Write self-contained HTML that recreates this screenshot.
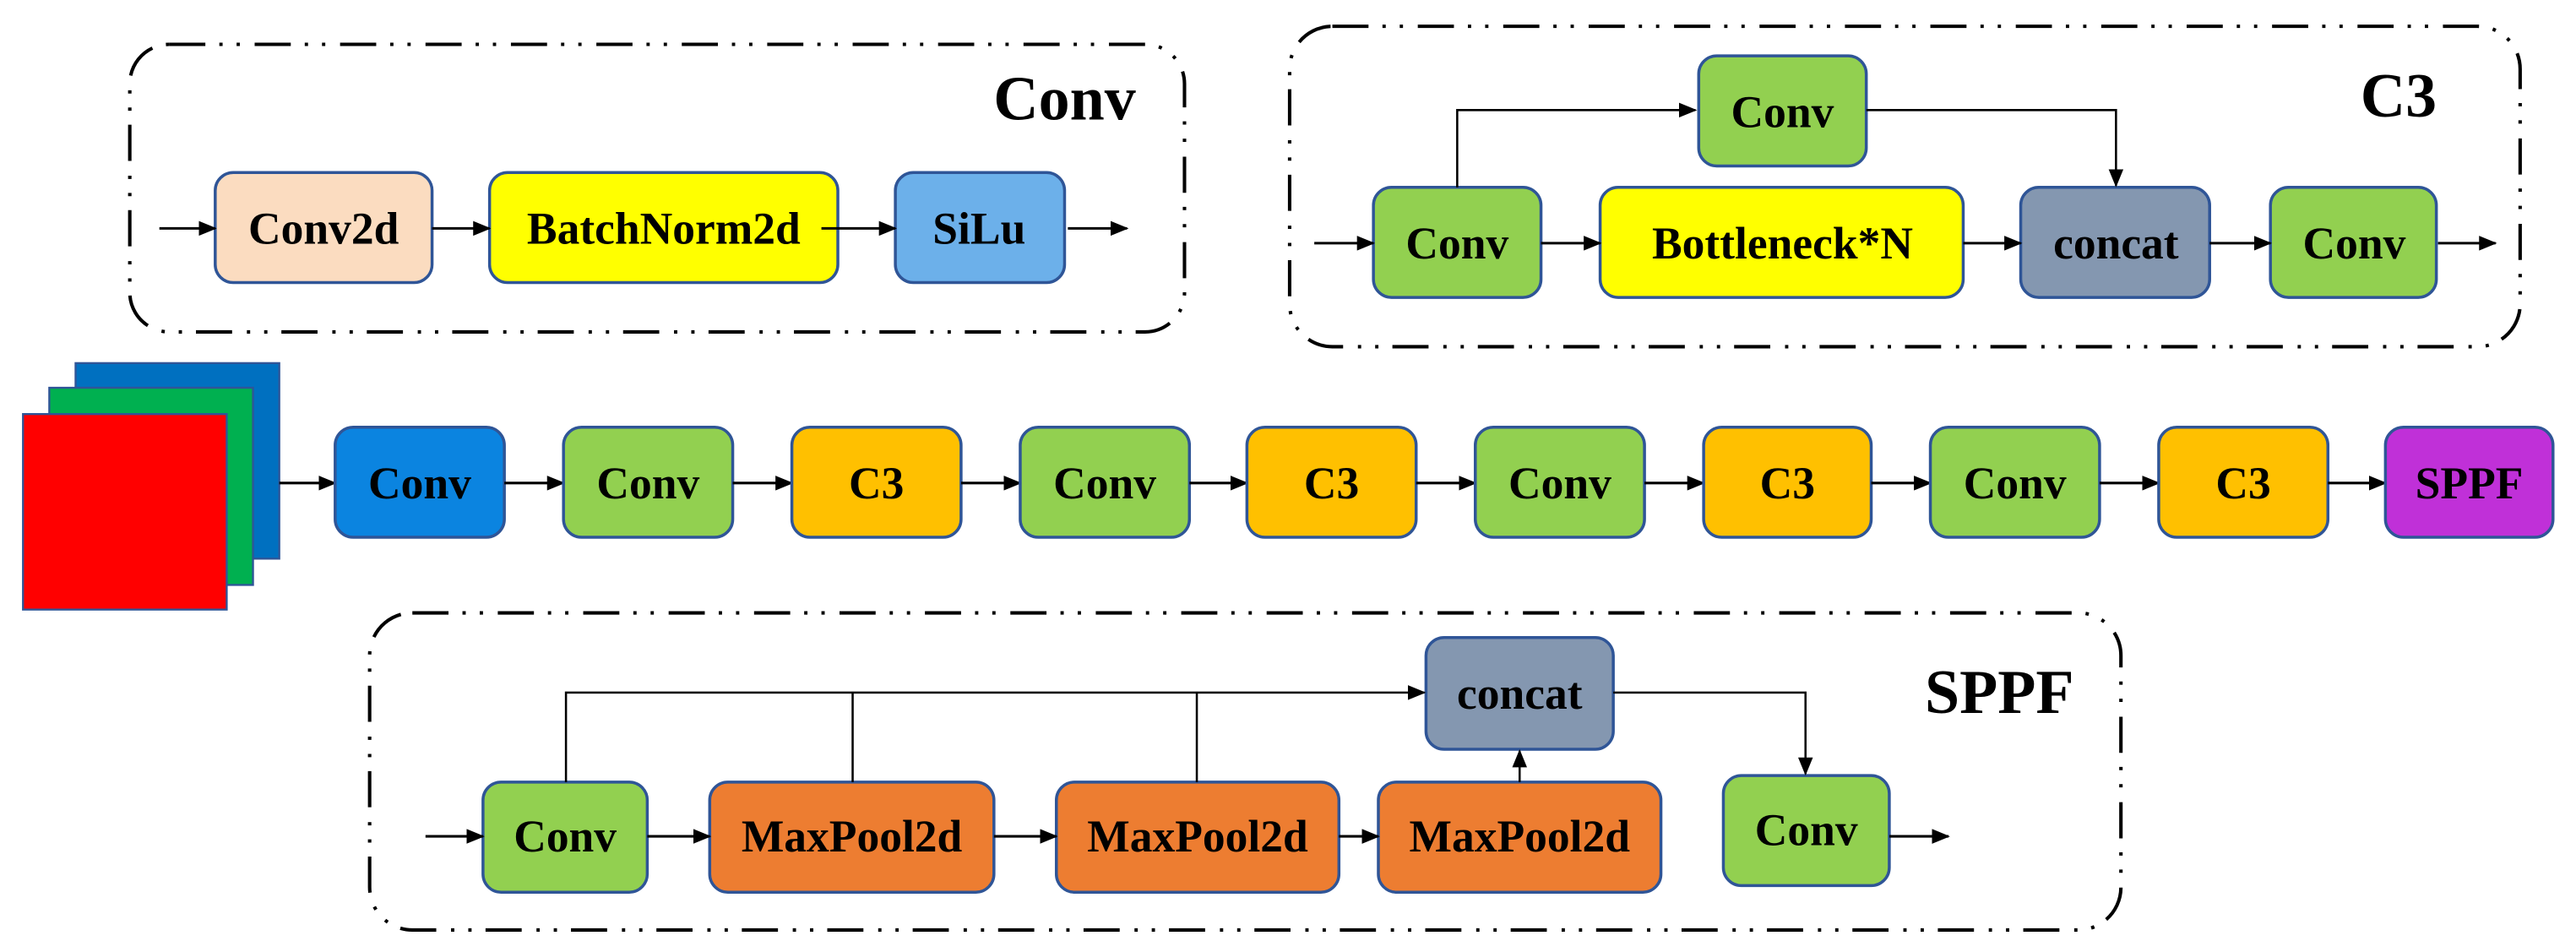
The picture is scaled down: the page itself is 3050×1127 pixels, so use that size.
<!DOCTYPE html>
<html><head><meta charset="utf-8"><style>
html,body{margin:0;padding:0;background:#fff;}
svg{display:block;}
text{font-family:"Liberation Serif",serif;font-weight:bold;fill:#000;text-anchor:middle;dominant-baseline:central;}
.b{stroke:#2f5597;stroke-width:1.8;}
.d{fill:none;stroke:#000;stroke-width:2.1;stroke-dasharray:22 8.5 2 8.5 2 9;}
.l{fill:none;stroke:#000;stroke-width:1.3;}
.a{fill:none;stroke:#000;stroke-width:1.6;marker-end:url(#ah);}
</style></head><body>
<svg width="3050" height="1127" viewBox="0 0 1568 579.4" preserveAspectRatio="none" xmlns="http://www.w3.org/2000/svg">
<defs><marker id="ah" markerWidth="11" markerHeight="9" refX="10" refY="4.5" orient="auto" markerUnits="userSpaceOnUse"><path d="M0,0 L11,4.5 L0,9 z" fill="#000"/></marker></defs>

<!-- Conv group -->
<rect class="d" x="79" y="27" width="642" height="175" rx="24"/>
<text x="648" y="60" font-size="38">Conv</text>
<rect class="b" x="131" y="105" width="132" height="67" rx="11" fill="#fbdcc0"/>
<text x="197" y="139" font-size="27.5">Conv2d</text>
<rect class="b" x="298" y="105" width="212" height="67" rx="11" fill="#ffff00"/>
<text x="404" y="139" font-size="27.5">BatchNorm2d</text>
<rect class="b" x="545" y="105" width="103" height="67" rx="11" fill="#6cb0ea"/>
<text x="596" y="139" font-size="27.5">SiLu</text>
<line class="a" x1="97" y1="139" x2="131" y2="139"/>
<line class="a" x1="263" y1="139" x2="298" y2="139"/>
<line class="a" x1="500" y1="139" x2="545" y2="139"/>
<line class="a" x1="650" y1="139" x2="686" y2="139"/>

<!-- C3 group -->
<rect class="d" x="785" y="16" width="749" height="195" rx="26"/>
<text x="1460" y="58" font-size="38">C3</text>
<rect class="b" x="1034" y="34" width="102" height="67" rx="11" fill="#92d050"/>
<text x="1085" y="68" font-size="27.5">Conv</text>
<rect class="b" x="836" y="114" width="102" height="67" rx="11" fill="#92d050"/>
<text x="887" y="148" font-size="27.5">Conv</text>
<rect class="b" x="974" y="114" width="221" height="67" rx="11" fill="#ffff00"/>
<text x="1085" y="148" font-size="27.5">Bottleneck*N</text>
<rect class="b" x="1230" y="114" width="115" height="67" rx="11" fill="#8497b0"/>
<text x="1288" y="148" font-size="27.5">concat</text>
<rect class="b" x="1382" y="114" width="101" height="67" rx="11" fill="#92d050"/>
<text x="1433" y="148" font-size="27.5">Conv</text>
<line class="a" x1="800" y1="148" x2="836" y2="148"/>
<line class="a" x1="938" y1="148" x2="974" y2="148"/>
<line class="a" x1="1195" y1="148" x2="1230" y2="148"/>
<line class="a" x1="1345" y1="148" x2="1382" y2="148"/>
<line class="a" x1="1484" y1="148" x2="1519" y2="148"/>
<polyline class="l" points="887,114 887,67 1032,67" style="marker-end:url(#ah)"/>
<polyline class="l" points="1136,67 1288,67 1288,113" style="marker-end:url(#ah)"/>

<!-- image stack -->
<rect x="46" y="221" width="124" height="119" fill="#0070c0" stroke="#2f5597" stroke-width="1.2"/>
<rect x="30" y="236" width="124" height="120" fill="#00b050" stroke="#2f5597" stroke-width="1.2"/>
<rect x="14" y="252" width="124" height="119" fill="#ff0000" stroke="#2f5597" stroke-width="1.2"/>

<!-- main row -->
<line class="a" x1="170" y1="294" x2="204" y2="294"/>
<rect class="b" x="204" y="260" width="103" height="67" rx="11" fill="#0b84e0"/><text x="255.5" y="294" font-size="27.5">Conv</text>
<line class="a" x1="307" y1="294" x2="343" y2="294"/>
<rect class="b" x="343" y="260" width="103" height="67" rx="11" fill="#92d050"/><text x="394.5" y="294" font-size="27.5">Conv</text>
<line class="a" x1="446" y1="294" x2="482" y2="294"/>
<rect class="b" x="482" y="260" width="103" height="67" rx="11" fill="#ffc000"/><text x="533.5" y="294" font-size="27.5">C3</text>
<line class="a" x1="585" y1="294" x2="621" y2="294"/>
<rect class="b" x="621" y="260" width="103" height="67" rx="11" fill="#92d050"/><text x="672.5" y="294" font-size="27.5">Conv</text>
<line class="a" x1="724" y1="294" x2="759" y2="294"/>
<rect class="b" x="759" y="260" width="103" height="67" rx="11" fill="#ffc000"/><text x="810.5" y="294" font-size="27.5">C3</text>
<line class="a" x1="862" y1="294" x2="898" y2="294"/>
<rect class="b" x="898" y="260" width="103" height="67" rx="11" fill="#92d050"/><text x="949.5" y="294" font-size="27.5">Conv</text>
<line class="a" x1="1001" y1="294" x2="1037" y2="294"/>
<rect class="b" x="1037" y="260" width="102" height="67" rx="11" fill="#ffc000"/><text x="1088" y="294" font-size="27.5">C3</text>
<line class="a" x1="1139" y1="294" x2="1175" y2="294"/>
<rect class="b" x="1175" y="260" width="103" height="67" rx="11" fill="#92d050"/><text x="1226.5" y="294" font-size="27.5">Conv</text>
<line class="a" x1="1278" y1="294" x2="1314" y2="294"/>
<rect class="b" x="1314" y="260" width="103" height="67" rx="11" fill="#ffc000"/><text x="1365.5" y="294" font-size="27.5">C3</text>
<line class="a" x1="1417" y1="294" x2="1452" y2="294"/>
<rect class="b" x="1452" y="260" width="102" height="67" rx="11" fill="#c030d8"/><text x="1503" y="294" font-size="27.5">SPPF</text>

<!-- SPPF group -->
<rect class="d" x="225" y="373" width="1066" height="193" rx="26"/>
<text x="1217" y="421" font-size="38">SPPF</text>
<rect class="b" x="868" y="388" width="114" height="68" rx="11" fill="#8497b0"/>
<text x="925" y="422" font-size="27.5">concat</text>
<rect class="b" x="294" y="476" width="100" height="67" rx="11" fill="#92d050"/>
<text x="344" y="509" font-size="27.5">Conv</text>
<rect class="b" x="432" y="476" width="173" height="67" rx="11" fill="#ed7d31"/>
<text x="518.5" y="509" font-size="27.5">MaxPool2d</text>
<rect class="b" x="643" y="476" width="172" height="67" rx="11" fill="#ed7d31"/>
<text x="729" y="509" font-size="27.5">MaxPool2d</text>
<rect class="b" x="839" y="476" width="172" height="67" rx="11" fill="#ed7d31"/>
<text x="925" y="509" font-size="27.5">MaxPool2d</text>
<rect class="b" x="1049" y="472" width="101" height="67" rx="11" fill="#92d050"/>
<text x="1099.5" y="505" font-size="27.5">Conv</text>
<line class="a" x1="259" y1="509" x2="294" y2="509"/>
<line class="a" x1="394" y1="509" x2="432" y2="509"/>
<line class="a" x1="605" y1="509" x2="643" y2="509"/>
<line class="a" x1="815" y1="509" x2="839" y2="509"/>
<line class="a" x1="1150" y1="509" x2="1186" y2="509"/>
<polyline class="l" points="344.5,476 344.5,421.5 867,421.5" style="marker-end:url(#ah)"/>
<line class="l" x1="519" y1="476" x2="519" y2="421.5"/>
<line class="l" x1="728.5" y1="476" x2="728.5" y2="421.5"/>
<line class="l" x1="925" y1="476" x2="925" y2="457" style="marker-end:url(#ah)"/>
<polyline class="l" points="982,421.5 1099,421.5 1099,471" style="marker-end:url(#ah)"/>
</svg>
</body></html>
